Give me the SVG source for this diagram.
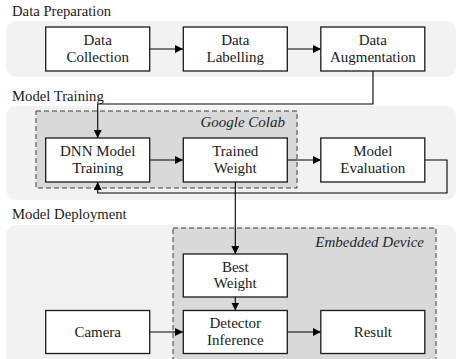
<svg xmlns="http://www.w3.org/2000/svg" width="458" height="359" viewBox="0 0 458 359">
  <style>
    .panel { fill: #f2f2f2; stroke: none; }
    .env { fill: #d9d9d9; stroke: #404040; stroke-width: 1; stroke-dasharray: 5 3; }
    .box { fill: #ffffff; stroke: #1a1a1a; stroke-width: 1.3; }
    text { font-family: "Liberation Serif", "Times New Roman", serif; fill: #1a1a1a; }
    .label { font-size: 15px; }
    .title { font-size: 14.7px; }
    .env-title { font-size: 15px; font-style: italic; fill: #262626; text-anchor: end; }
    .wire { fill: none; stroke: #000000; stroke-width: 1.1; }
    .mid { text-anchor: middle; }
  </style>
  <defs>
    <marker id="arrow" viewBox="0 0 10 10" refX="10" refY="5" markerWidth="8" markerHeight="8" markerUnits="userSpaceOnUse" orient="auto">
      <path d="M0,0 L10,5 L0,10 Z" fill="#000000"/>
    </marker>
  </defs>

  <!-- stage panels -->
  <g id="stage-preparation">
    <rect class="panel" x="6" y="21" width="450" height="56" rx="10"/>
    <text class="title" x="12" y="16">Data Preparation</text>
  </g>
  <g id="stage-training">
    <rect class="panel" x="6" y="106" width="450" height="94" rx="10"/>
    <text class="title" x="12" y="101">Model Training</text>
  </g>
  <g id="stage-deployment">
    <rect class="panel" x="6" y="225" width="450" height="160" rx="10"/>
    <text class="title" x="12" y="219">Model Deployment</text>
  </g>

  <!-- execution environments -->
  <g id="env-colab">
    <rect class="env" x="36" y="111" width="261" height="77"/>
    <text class="env-title" x="285" y="127">Google Colab</text>
  </g>
  <g id="env-embedded">
    <rect class="env" x="173" y="228" width="263" height="140"/>
    <text class="env-title" x="424" y="247">Embedded Device</text>
  </g>

  <!-- connectors -->
  <g id="connectors">
    <line class="wire" x1="150" y1="49" x2="183" y2="49" marker-end="url(#arrow)"/>
    <line class="wire" x1="287" y1="49" x2="321" y2="49" marker-end="url(#arrow)"/>
    <polyline class="wire" points="373,71 373,104 97.7,104 97.7,138" marker-end="url(#arrow)"/>
    <line class="wire" x1="150" y1="160" x2="183" y2="160" marker-end="url(#arrow)"/>
    <line class="wire" x1="287" y1="160" x2="321" y2="160" marker-end="url(#arrow)"/>
    <polyline class="wire" points="425,160 447,160 447,193 97.7,193 97.7,182" marker-end="url(#arrow)"/>
    <line class="wire" x1="235.3" y1="182" x2="235.3" y2="254" marker-end="url(#arrow)"/>
    <line class="wire" x1="235.3" y1="297" x2="235.3" y2="310.5" marker-end="url(#arrow)"/>
    <line class="wire" x1="150" y1="332" x2="183" y2="332" marker-end="url(#arrow)"/>
    <line class="wire" x1="287" y1="332" x2="321" y2="332" marker-end="url(#arrow)"/>
  </g>

  <!-- nodes -->
  <g id="data-collection">
    <rect class="box" x="45.7" y="27" width="104" height="44"/>
    <text class="label mid" x="97.7" y="45">Data</text>
    <text class="label mid" x="97.7" y="62">Collection</text>
  </g>
  <g id="data-labelling">
    <rect class="box" x="183.3" y="27" width="104" height="44"/>
    <text class="label mid" x="235.3" y="45">Data</text>
    <text class="label mid" x="235.3" y="62">Labelling</text>
  </g>
  <g id="data-augmentation">
    <rect class="box" x="320.8" y="27" width="104" height="44"/>
    <text class="label mid" x="372.8" y="45">Data</text>
    <text class="label mid" x="372.8" y="62">Augmentation</text>
  </g>
  <g id="dnn-training">
    <rect class="box" x="45.7" y="138" width="104" height="44"/>
    <text class="label mid" x="97.7" y="156">DNN Model</text>
    <text class="label mid" x="97.7" y="173">Training</text>
  </g>
  <g id="trained-weight">
    <rect class="box" x="183.3" y="138" width="104" height="44"/>
    <text class="label mid" x="235.3" y="156">Trained</text>
    <text class="label mid" x="235.3" y="173">Weight</text>
  </g>
  <g id="model-evaluation">
    <rect class="box" x="320.8" y="138" width="104" height="44"/>
    <text class="label mid" x="372.8" y="156">Model</text>
    <text class="label mid" x="372.8" y="173">Evaluation</text>
  </g>
  <g id="best-weight">
    <rect class="box" x="183.3" y="254" width="104" height="43"/>
    <text class="label mid" x="235.3" y="271.5">Best</text>
    <text class="label mid" x="235.3" y="288">Weight</text>
  </g>
  <g id="camera">
    <rect class="box" x="45.7" y="310.5" width="104" height="43"/>
    <text class="label mid" x="97.7" y="337">Camera</text>
  </g>
  <g id="detector-inference">
    <rect class="box" x="183.3" y="310.5" width="104" height="43"/>
    <text class="label mid" x="235.3" y="328.3">Detector</text>
    <text class="label mid" x="235.3" y="344.5">Inference</text>
  </g>
  <g id="result">
    <rect class="box" x="320.8" y="310.5" width="104" height="43"/>
    <text class="label mid" x="372.8" y="337">Result</text>
  </g>
</svg>
